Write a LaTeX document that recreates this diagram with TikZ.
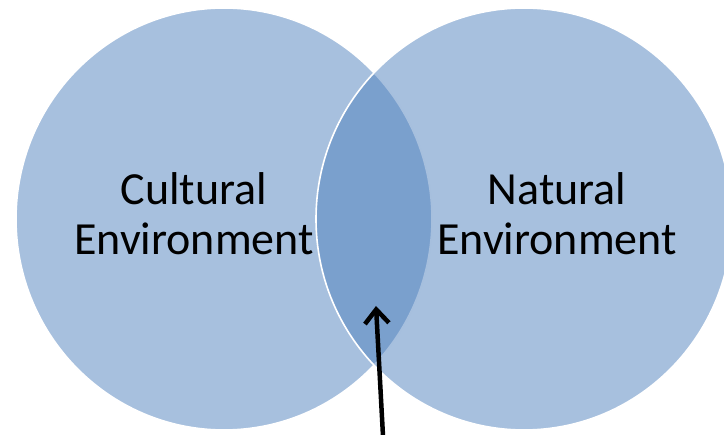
\documentclass[tikz,border=0pt]{standalone}
\usepackage{fontspec}
\setmainfont{Carlito}
\usetikzlibrary{arrows.meta}
\definecolor{vennblue}{HTML}{4F81BD}
\tikzset{
  venn/.style={fill=vennblue, fill opacity=0.5, draw=white, line width=1.6pt},
  label/.style={anchor=base, inner sep=0pt, font=\fontsize{46}{50}\selectfont, text=black},
  pointer/.style={draw=black, line width=4.5pt, -{Straight Barb[length=14pt,width=24pt]}}
}
\begin{document}
\begin{tikzpicture}[x=1pt,y=-1pt]
\useasboundingbox (0,0) rectangle (724,435);
\begin{scope}
\clip (0,0) rectangle (724,435);
\path[venn] (224,219) ellipse [x radius=208pt, y radius=211pt];
\path[venn] (524,219) ellipse [x radius=208pt, y radius=211pt];
\end{scope}
\node[label] (c1) at (194,205) {Cultural};
\node[label] (c2) at (194,255) {Environment};
\node[label] (n1) at (557,205) {Natural};
\node[label] (n2) at (557,255) {Environment};
\coordinate (tail) at (383,436);
\coordinate (tip) at (376,306);
\draw[pointer] (tail) -- (tip);
\end{tikzpicture}
\end{document}
